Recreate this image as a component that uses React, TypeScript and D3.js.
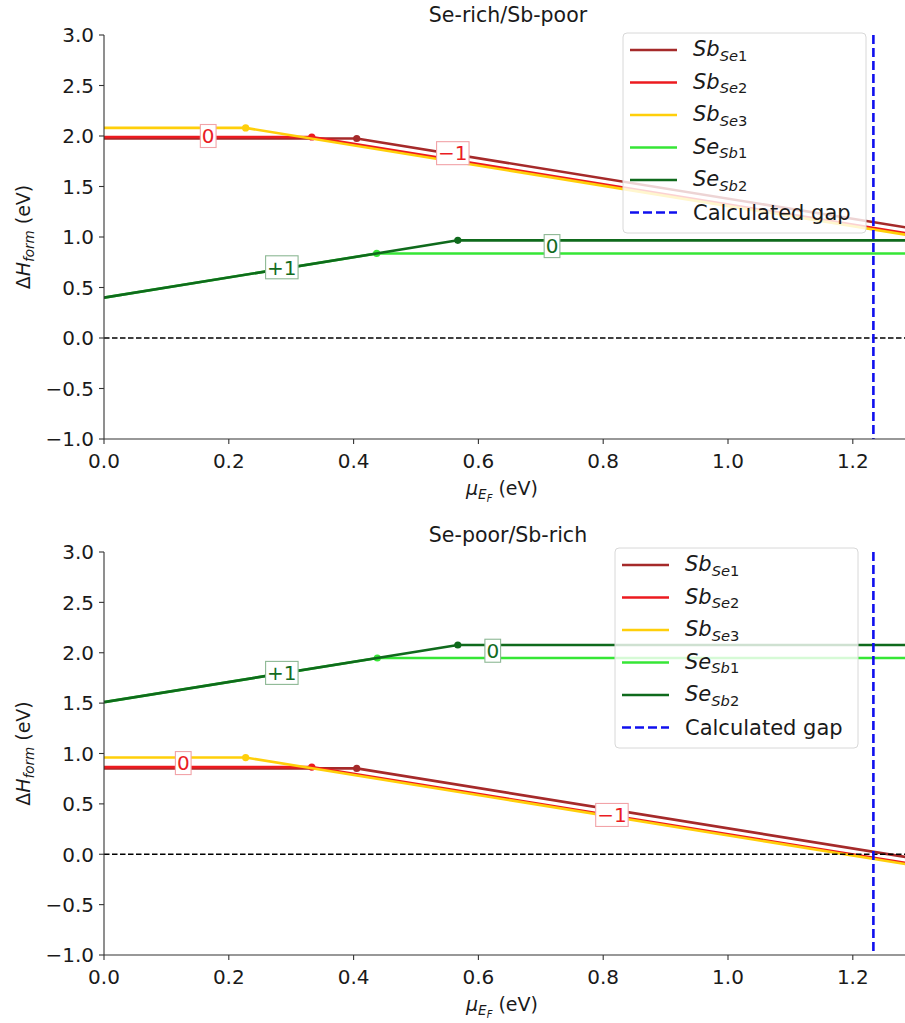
import React from "react";
import * as d3 from "d3";

// Formation energy of each charge state at the valence band maximum (mu_EF = 0), in eV.
// Each line is E(q, mu) = e0 + q * mu; the drawn curve is the lowest of its charge states.
type ChargeState = { q: number; e0: number };
type Defect = { key: string; base: string; sub: string; color: string; states: ChargeState[] };

const DEFECT_NAMES = ["SbSe1", "SbSe2", "SbSe3", "SeSb1", "SeSb2"];
const DEFECT_BASE = ["Sb", "Sb", "Sb", "Se", "Se"];
const DEFECT_SUB = ["Se", "Se", "Se", "Sb", "Sb"];
const DEFECT_SUB_NUM = ["1", "2", "3", "1", "2"];
const DEFECT_COLORS = ["#a52a2a", "#ec1a1f", "#ffcf0a", "#36e636", "#0f6a1c"];
const DEFECT_CHARGES = [
  [0, -1],
  [0, -1],
  [0, -1],
  [1, 0],
  [1, 0],
];

// Se-rich / Sb-poor conditions
const SE_RICH_E0 = [
  [1.975, 2.38],
  [1.99, 2.323],
  [2.08, 2.307],
  [0.4, 0.837],
  [0.4, 0.967],
];
// Se-poor / Sb-rich conditions
const SE_POOR_E0 = [
  [0.852, 1.257],
  [0.865, 1.198],
  [0.96, 1.187],
  [1.51, 1.948],
  [1.51, 2.077],
];

const GAP = 1.233;
const X_TICKS = [0, 0.2, 0.4, 0.6, 0.8, 1.0, 1.2];
const Y_TICKS = [-1.0, -0.5, 0.0, 0.5, 1.0, 1.5, 2.0, 2.5, 3.0];

// Inline charge-state labels: [mu, energy, text, color index]
type InlineLabel = [number, number, string, number];
const SE_RICH_LABELS: InlineLabel[] = [
  [0.167, 2.0, "0", 1],
  [0.559, 1.83, "\u22121", 1],
  [0.285, 0.7, "+1", 4],
  [0.718, 0.91, "0", 4],
];
const SE_POOR_LABELS: InlineLabel[] = [
  [0.127, 0.905, "0", 1],
  [0.814, 0.39, "\u22121", 1],
  [0.285, 1.8, "+1", 4],
  [0.623, 2.02, "0", 4],
];

const FONT = "DejaVu Sans, Verdana, sans-serif";
const W = 905;
const H = 1023;
const X_LEFT = 104;
const X_PER_UNIT = 624;
const X_MAX = 1.3;

function buildDefects(e0s: number[][]): Defect[] {
  return DEFECT_NAMES.map((key, i) => ({
    key,
    base: DEFECT_BASE[i],
    sub: DEFECT_SUB[i] + DEFECT_SUB_NUM[i],
    color: DEFECT_COLORS[i],
    states: DEFECT_CHARGES[i].map((q, j) => ({ q, e0: e0s[i][j] })),
  }));
}

function envelope(states: ChargeState[], xmax: number) {
  const energy = (x: number) => d3.min(states, (s) => s.e0 + s.q * x) as number;
  const xs: number[] = [0, xmax];
  for (let a = 0; a < states.length; a++)
    for (let b = a + 1; b < states.length; b++) {
      const sa = states[a];
      const sb = states[b];
      if (sa.q === sb.q) continue;
      const x = (sb.e0 - sa.e0) / (sa.q - sb.q);
      if (x > 0 && x < xmax && Math.abs(sa.e0 + sa.q * x - energy(x)) < 1e-9) xs.push(x);
    }
  xs.sort((p, q) => p - q);
  const pts: [number, number][] = xs.map((x) => [x, energy(x)]);
  const kinks = pts.filter((p) => p[0] > 0 && p[0] < xmax);
  return { pts, kinks };
}

const CHAR_W: Record<string, number> = { "0": 0.636, "1": 0.636, "+": 0.838, "\u2212": 0.838 };

function SubLabel({ x, y, base, sub, size }: { x: number; y: number; base: string; sub: string; size: number }) {
  const letters = sub.replace(/[0-9]/g, "");
  const digits = sub.replace(/[^0-9]/g, "");
  return (
    <text x={x} y={y} fontFamily={FONT} fontSize={size} fill="#1a1a1a">
      <tspan fontStyle="italic">{base}</tspan>
      <tspan fontStyle="italic" fontSize={size * 0.7} dy={size * 0.22}>
        {letters}
      </tspan>
      <tspan fontSize={size * 0.7}>{digits}</tspan>
    </text>
  );
}

function Panel({
  top,
  bottom,
  title,
  titleY,
  e0s,
  labels,
  legendBox,
}: {
  top: number;
  bottom: number;
  title: string;
  titleY: number;
  e0s: number[][];
  labels: InlineLabel[];
  legendBox: { x: number; y: number; w: number; h: number; rowH: number };
}) {
  const x = d3.scaleLinear().domain([0, X_MAX]).range([X_LEFT, X_LEFT + X_PER_UNIT * X_MAX]);
  const y = d3.scaleLinear().domain([-1, 3]).range([bottom, top]);
  const defects = buildDefects(e0s);
  const line = d3
    .line<[number, number]>()
    .x((d) => x(d[0]))
    .y((d) => y(d[1]));
  const clipId = `clip-${top}`;
  const midY = (top + bottom) / 2;

  return (
    <g>
      <defs>
        <clipPath id={clipId}>
          <rect x={X_LEFT} y={top - 2} width={W - X_LEFT} height={bottom - top + 4} />
        </clipPath>
      </defs>
      <text x={508} y={titleY} textAnchor="middle" fontFamily={FONT} fontSize={20.5} fill="#1a1a1a">
        {title}
      </text>

      <g clipPath={`url(#${clipId})`}>
        {defects.map((d) => {
          const env = envelope(d.states, X_MAX);
          return (
            <g key={d.key}>
              <path d={line(env.pts) ?? ""} fill="none" stroke={d.color} strokeWidth={2.6} />
              {env.kinks.map((k, i) => (
                <circle key={i} cx={x(k[0])} cy={y(k[1])} r={3.6} fill={d.color} />
              ))}
            </g>
          );
        })}
        <line
          x1={X_LEFT}
          x2={W}
          y1={y(0)}
          y2={y(0)}
          stroke="#000"
          strokeWidth={1.6}
          strokeDasharray="5.5,2.5"
        />
        <line
          x1={x(GAP)}
          x2={x(GAP)}
          y1={top}
          y2={bottom}
          stroke="#1010ee"
          strokeWidth={2.6}
          strokeDasharray="9,4"
        />
      </g>

      {labels.map(([lx, ly, txt, ci], i) => {
        const w = Array.from(txt).reduce((s, c) => s + (CHAR_W[c] ?? 0.636), 0) * 20 + 3;
        const color = DEFECT_COLORS[ci];
        const textColor = ci === 1 ? "#ea1c24" : "#136b22";
        const border = ci === 1 ? "#f2a3a8" : "#8db894";
        return (
          <g key={i} transform={`translate(${x(lx)},${y(ly)})`}>
            <rect x={-w / 2} y={-11.5} width={w} height={23} fill="#fff" stroke={border} strokeWidth={1.1} />
            <text
              x={0}
              y={7.2}
              textAnchor="middle"
              fontFamily={FONT}
              fontSize={20}
              fill={textColor}
              data-series={color}
            >
              {txt}
            </text>
          </g>
        );
      })}

      {/* axes: left and bottom spines only */}
      <line x1={X_LEFT} x2={X_LEFT} y1={top} y2={bottom} stroke="#333" strokeWidth={1.1} />
      <line x1={X_LEFT} x2={W} y1={bottom} y2={bottom} stroke="#333" strokeWidth={1.1} />
      {Y_TICKS.map((t) => (
        <g key={t}>
          <line x1={X_LEFT - 5} x2={X_LEFT} y1={y(t)} y2={y(t)} stroke="#333" strokeWidth={1.1} />
          <text
            x={X_LEFT - 10}
            y={y(t) + 7.3}
            textAnchor="end"
            fontFamily={FONT}
            fontSize={20}
            fill="#1a1a1a"
          >
            {t < 0 ? "\u2212" + Math.abs(t).toFixed(1) : t.toFixed(1)}
          </text>
        </g>
      ))}
      {X_TICKS.map((t) => (
        <g key={t}>
          <line x1={x(t)} x2={x(t)} y1={bottom} y2={bottom + 5} stroke="#333" strokeWidth={1.1} />
          <text x={x(t)} y={bottom + 29} textAnchor="middle" fontFamily={FONT} fontSize={20} fill="#1a1a1a">
            {t.toFixed(1)}
          </text>
        </g>
      ))}

      {/* y label */}
      <text
        transform={`translate(30,${midY}) rotate(-90)`}
        textAnchor="middle"
        fontFamily={FONT}
        fontSize={19}
        fill="#1a1a1a"
      >
        <tspan>Δ</tspan>
        <tspan fontStyle="italic">H</tspan>
        <tspan fontStyle="italic" fontSize={13.5} dy={4}>
          form
        </tspan>
        <tspan dy={-4}> (eV)</tspan>
      </text>

      {/* x label */}
      <text x={502} y={bottom + 56} textAnchor="middle" fontFamily={FONT} fontSize={19} fill="#1a1a1a">
        <tspan fontStyle="italic">μ</tspan>
        <tspan fontStyle="italic" fontSize={13.5} dy={4}>
          E
        </tspan>
        <tspan fontStyle="italic" fontSize={10} dy={2.5}>
          F
        </tspan>
        <tspan dy={-6.5}> (eV)</tspan>
      </text>

      {/* legend */}
      <g>
        <rect
          x={legendBox.x}
          y={legendBox.y}
          width={legendBox.w}
          height={legendBox.h}
          rx={4}
          fill="#fff"
          fillOpacity={0.8}
          stroke="#d8d8d8"
          strokeWidth={1}
        />
        {defects.map((d, i) => {
          const ry = legendBox.y + 17 + i * legendBox.rowH;
          return (
            <g key={d.key}>
              <line
                x1={legendBox.x + 7}
                x2={legendBox.x + 54}
                y1={ry}
                y2={ry}
                stroke={d.color}
                strokeWidth={2.6}
              />
              <SubLabel x={legendBox.x + 70} y={ry + 6} base={d.base} sub={d.sub} size={21} />
            </g>
          );
        })}
        {(() => {
          const ry = legendBox.y + 17 + 5 * legendBox.rowH;
          return (
            <g>
              <line
                x1={legendBox.x + 7}
                x2={legendBox.x + 54}
                y1={ry}
                y2={ry}
                stroke="#1010ee"
                strokeWidth={2.6}
                strokeDasharray="9,4"
              />
              <text x={legendBox.x + 70} y={ry + 7.5} fontFamily={FONT} fontSize={21} fill="#1a1a1a">
                Calculated gap
              </text>
            </g>
          );
        })()}
      </g>
    </g>
  );
}

export default function App() {
  return (
    <div style={{ position: "absolute", left: 0, top: 0, width: W, height: H, background: "#fff" }}>
      <svg width={W} height={H} viewBox={`0 0 ${W} ${H}`} style={{ display: "block" }}>
        <rect width={W} height={H} fill="#fff" />
        <Panel
          top={35}
          bottom={439}
          title="Se-rich/Sb-poor"
          titleY={22}
          e0s={SE_RICH_E0}
          labels={SE_RICH_LABELS}
          legendBox={{ x: 623, y: 33, w: 243, h: 200, rowH: 32.5 }}
        />
        <Panel
          top={552}
          bottom={955}
          title="Se-poor/Sb-rich"
          titleY={542}
          e0s={SE_POOR_E0}
          labels={SE_POOR_LABELS}
          legendBox={{ x: 615, y: 548, w: 243, h: 200, rowH: 32.5 }}
        />
      </svg>
    </div>
  );
}
